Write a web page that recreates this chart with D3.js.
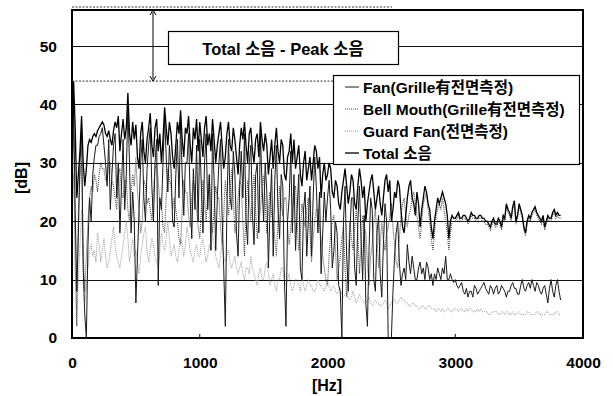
<!DOCTYPE html>
<html>
<head>
<meta charset="utf-8">
<script src="https://cdn.jsdelivr.net/npm/d3@7"></script>
<style>
  body { margin: 0; background: #fff; }
  svg { display: block; }
  text { font-family: "Liberation Sans", Arial, "Noto Sans CJK KR", sans-serif; }
</style>
</head>
<body>
<svg id="chart" width="613" height="396"></svg>
<script>
// frequency bins, 12.5 Hz apart (0 .. 3825 Hz)
const freq = d3.range(0, 3837.5, 12.5);

// one row = 100 Hz
const total = [
  30, 44, 36, 24, 28, 32, 38, 30,
  26, 29, 33, 34, 33.5, 34.5, 35, 34.5,
  35.5, 36, 36.5, 37, 36.5, 35, 34.5, 35.5,
  34, 33, 35.5, 37, 36, 38, 32, 35,
  37.5, 34, 36, 42, 35, 33, 37, 34,
  36.5, 31, 29, 35, 37, 32, 30, 34,
  36, 38.5, 33, 31, 36, 37.5, 32, 35,
  30, 34, 39.5, 36, 33, 37, 35, 31,
  29, 33, 37, 35, 39, 34, 31, 36,
  35, 38, 33, 30, 36, 34, 37.5, 32,
  37, 34, 31, 36, 38, 33, 35, 32,
  37.5, 34, 30, 33, 35, 37, 33, 29,
  31, 35, 37, 33, 32, 36, 34, 31,
  28, 33, 36, 34, 37, 33, 30, 35,
  36, 32, 30, 34, 35, 31, 37, 34,
  32, 35, 33, 28, 31, 34, 29, 33,
  36, 32, 30, 34, 33, 28, 27, 31,
  32, 35, 30, 34, 29, 31, 33, 28,
  26, 30, 32, 27, 29, 31, 27, 30,
  33, 32, 29, 31, 24, 28, 30, 27,
  28, 30, 29, 25, 24, 27, 26, 23,
  22, 25, 27, 29, 26, 23, 25, 28,
  27, 23, 22, 26, 29, 27, 24, 26,
  20, 23, 25, 27, 28, 25, 22, 24,
  26, 23, 21, 24, 27, 28, 25, 27,
  20, 22, 25, 24, 27, 26, 22, 19,
  18, 21, 24, 26, 27, 24, 23, 21,
  25, 23, 19, 22, 24, 26, 25, 23,
  22, 19, 17, 20, 22, 24, 23, 24,
  25, 24, 23, 21, 17, 20, 21, 20.5,
  20.5, 21, 21.5, 20.5, 20.5, 21, 21, 20.5,
  20, 20.5, 21.5, 21, 21, 20.5, 20.5, 21,
  21, 20.5, 20.5, 20, 20, 19.5, 19, 20,
  20.5, 19.5, 19.5, 20.5, 20, 19, 21, 20.5,
  23, 22, 21.5, 20.5, 22.5, 23.5, 20, 21,
  23, 22, 21, 19, 18, 20, 21, 20.5,
  21.5, 22, 22.5, 21.5, 21, 20.5, 20, 21,
  19, 20, 21, 20.5, 20.5, 21.5, 22, 21,
  21.5, 21, 21
];

const fan = [
  26, 40, 22, 8, 18, 30, 36, 12,
  4, 0, 16, 24, 20, 28, 31, 33,
  33, 34.5, 35, 36, 33, 30, 26, 34,
  22, 28, 33, 35, 24, 30, 18, 26,
  34, 22, 28, 40, 30, 18, 25, 20,
  6, 14, 22, 30, 34, 24, 20, 29,
  33, 36, 26, 20, 30, 34, 9, 24,
  22, 30, 38, 31, 25, 33, 29, 20,
  19, 28, 34, 24, 37, 28, 21, 30,
  30, 35, 24, 17, 29, 22, 33, 20,
  34, 26, 18, 30, 35, 22, 28, 15,
  35, 27, 15, 24, 30, 34, 21, 12,
  2, 22, 34, 24, 22, 32, 28, 18,
  14, 26, 32, 24, 35, 20, 16, 30,
  33, 21, 16, 28, 30, 18, 35, 26,
  20, 30, 25, 12, 22, 29, 14, 27,
  33, 22, 17, 28, 26, 10, 2, 20,
  24, 32, 18, 28, 15, 22, 28, 12,
  10, 22, 25, 14, 20, 26, 14, 24,
  31, 26, 18, 25, 11, 18, 25, 20,
  24, 27, 22, 12, 15, 20, 18, 9,
  8, 0, 20, 26, 14, 8, 18, 24,
  24, 12, 9, 20, 26, 17, 10, 21,
  6, 2, 15, 24, 22, 10, 8, 18,
  21, 11, 7, 16, 23, 20, 0, 0,
  0, 8, 14, 18, 20, 13, 9, 11,
  12, 10, 16, 13, 11, 14, 12, 10,
  10, 12, 13, 11, 12, 10, 13, 12,
  10, 11, 9, 11, 10, 12, 11, 10,
  12, 11, 14, 10, 10, 11, 10, 9.5,
  10, 9, 8.5, 9, 9.5, 8, 7.5, 8.5,
  7, 8, 8, 7, 9, 8.5, 7.5, 8,
  8.5, 9, 9.5, 8.5, 8, 7.5, 9, 8.5,
  7.5, 8.5, 9, 7.5, 8, 9, 8.5, 8,
  7, 8, 8, 9, 9.5, 8.5, 8.5, 7.5,
  7.5, 9, 10, 8.5, 8, 9, 9.5, 8.5,
  10, 9, 8, 9.5, 9, 8, 7.5, 8.5,
  9, 7.5, 6, 8.5, 10, 8, 7, 9,
  10, 8, 6.5
];

const bellMouth = [
  30, 35, 12, 2, 22, 28, 30, 15,
  8, 14, 20, 24, 26, 25, 28, 27,
  25, 28, 30, 29, 29, 27, 27, 30,
  30, 27, 26, 24, 22, 28, 29, 25,
  24, 27, 27, 22, 20, 25, 28, 26,
  31, 25, 22, 18, 20, 27, 26, 23,
  24, 22, 20, 25, 29, 30, 27, 23,
  23, 19, 18, 24, 29, 27, 26, 22,
  24, 22, 20, 17, 16, 22, 27, 25,
  25, 21, 19, 24, 27, 25, 22, 19,
  17, 22, 27, 24, 20, 25, 28, 23,
  18, 22, 26, 24, 24, 19, 16, 21,
  27, 24, 21, 25, 29, 24, 18, 20,
  24, 27, 26, 20, 14, 22, 27, 24,
  20, 25, 28, 22, 17, 20, 22, 26,
  28, 23, 18, 22, 25, 21, 20, 17,
  14, 20, 26, 23, 21, 24, 24, 19,
  16, 19, 22, 25, 26, 20, 15, 18,
  23, 21, 19, 22, 24, 18, 13, 17,
  20, 22, 22, 19, 17, 14, 12, 10,
  9, 14, 18, 20, 21, 15, 10, 12,
  14, 17, 19, 12, 7, 14, 20, 17,
  15, 19, 22, 18, 11, 16, 21, 19,
  18, 13, 9, 14, 16, 20, 22, 17,
  12, 16, 20, 17, 15, 18, 19, 21,
  23, 19, 16, 13, 12, 17, 21, 23,
  24, 21, 19, 21, 22, 24, 25, 23,
  21, 19, 17, 20, 23, 24, 25, 22,
  20, 17, 15, 18, 21, 22, 23, 22,
  24, 22, 20, 18, 15, 18, 20, 20,
  20, 20.5, 21, 20, 20, 20.5, 20.5, 20,
  19.5, 20, 21, 20.5, 20.5, 20, 20, 20.5,
  20.5, 20, 20, 19.5, 19.5, 19, 18.5, 19.5,
  20, 19, 19, 20, 19.5, 18.5, 20.5, 20,
  22.5, 21.5, 21, 20, 22, 23, 19.5, 20.5,
  22.5, 21.5, 20.5, 18.5, 17.5, 19.5, 20.5, 20,
  21, 21.5, 22, 21, 20.5, 20, 19.5, 20.5,
  18.5, 19.5, 20.5, 20, 20, 21, 21.5, 20.5,
  21, 20.5, 20.5
];

const guardFan = [
  20, 28, 18, 4, 10, 16, 22, 12,
  6, 9, 12, 15, 16, 14, 15, 13,
  18, 16, 13, 15, 17, 14, 12, 13,
  15, 17, 19, 16, 14, 13, 12, 14,
  16, 18, 20, 17, 13, 15, 17, 14,
  15, 13, 11, 14, 16, 18, 19, 15,
  13, 15, 17, 16, 14, 13, 12, 15,
  18, 16, 15, 17, 20, 17, 14, 15,
  16, 14, 13, 15, 17, 16, 14, 16,
  19, 17, 15, 14, 13, 15, 16, 14,
  14, 16, 17, 15, 13, 14, 16, 15,
  18, 16, 14, 13, 12, 14, 16, 14,
  13, 14, 15, 13, 12, 13, 14, 12,
  11, 12, 13, 11, 10, 12, 12, 11,
  14, 12, 11, 10, 9, 11, 12, 10,
  10, 12, 13, 11, 9, 10, 11, 9,
  8, 10, 10, 12, 12, 10, 9, 10,
  11, 9, 8, 9, 10, 10, 9, 8,
  11, 9, 8, 9, 10, 9, 9, 8,
  8, 9, 10, 9, 9, 8.5, 8, 9,
  9.5, 9, 8, 8.5, 9, 8, 7.5, 8,
  8.5, 7.5, 7, 7.5, 8, 7, 6.5, 7,
  8, 7, 6, 6.5, 7.5, 7, 6.5, 6,
  6, 6.5, 7, 6, 5.5, 6, 6.5, 6,
  6, 5.5, 5.5, 6, 6.5, 6, 5, 5.5,
  6, 6.5, 6.5, 6, 6, 6.5, 7, 6.5,
  6.5, 6, 6, 5.5, 5.5, 6, 6, 5.5,
  5.5, 5, 5, 5.5, 5.5, 5, 5, 5.5,
  5.5, 5, 5, 5, 4.5, 5, 5, 4.5,
  5, 4.5, 4.5, 5, 5, 4.5, 4.5, 5,
  5, 5, 4.5, 5, 5, 4.5, 4.5, 5,
  4.5, 5, 5, 4.5, 4.5, 4.5, 5, 4.5,
  5, 4.5, 4.5, 4.5, 4.5, 4, 4, 4.5,
  4.5, 4.5, 4.5, 4, 4, 4.5, 4.5, 4,
  4.5, 4.5, 4, 4, 4.5, 4, 4, 4.5,
  4.5, 4, 4, 4, 4, 4.5, 4.5, 4,
  4, 4, 4, 4.5, 4.5, 4, 4, 4,
  4, 4.5, 4.5, 4, 4, 4, 4, 4.5,
  4.5, 4, 4
];

const yTicks = [0, 10, 20, 30, 40, 50];
const xTicks = [0, 1000, 2000, 3000, 4000];
const legendLabels = ["Fan(Grille有전면측정)", "Bell Mouth(Grille有전면측정)", "Guard Fan(전면측정)", "Total 소음"];

const svg = d3.select("#chart");
const plotL = 72, plotR = 583, plotT = 10, plotB = 338;

const x = d3.scaleLinear().domain([0, 4000]).range([plotL, plotR]);
const y = d3.scaleLinear().domain([0, 56]).range([plotB, plotT + 1]);

// grid
svg.append("g")
  .selectAll("line")
  .data(yTicks.filter(d => d > 0))
  .join("line")
  .attr("x1", plotL).attr("x2", plotR)
  .attr("y1", d => Math.round(y(d)) + 0.5).attr("y2", d => Math.round(y(d)) + 0.5)
  .attr("stroke", "#111").attr("stroke-width", 1.2);

// axes (labels only, no tick lines)
const yAxis = svg.append("g")
  .attr("transform", `translate(${plotL - 15},0)`)
  .call(d3.axisLeft(y).tickValues(yTicks).tickSize(0).tickPadding(0));
const xAxis = svg.append("g")
  .attr("transform", `translate(0,${plotB + 16})`)
  .call(d3.axisBottom(x).tickValues(xTicks).tickSize(0).tickPadding(3).tickFormat(d3.format("d")));
[yAxis, xAxis].forEach(a => {
  a.select(".domain").remove();
  a.selectAll("text")
    .attr("font-size", 15.5).attr("font-weight", "bold").attr("fill", "#000")
    .attr("font-family", "'Liberation Sans', Arial, sans-serif");
});

// small ticks on the bottom edge
svg.append("g")
  .selectAll("line")
  .data([1000, 3000])
  .join("line")
  .attr("x1", d => x(d)).attr("x2", d => x(d))
  .attr("y1", plotB).attr("y2", plotB - 4)
  .attr("stroke", "#000");

// series
const line = vals => d3.line()
  .x((d, i) => x(freq[i]))
  .y(d => y(d))(vals);

const series = [
  { vals: guardFan, stroke: "#9a9a9a", width: 1, dash: "1,1" },
  { vals: bellMouth, stroke: "#4a4a4a", width: 1.1, dash: "1,1" },
  { vals: fan, stroke: "#1a1a1a", width: 1, dash: null },
  { vals: total, stroke: "#000", width: 1.3, dash: null }
];

svg.append("g")
  .selectAll("path")
  .data(series)
  .join("path")
  .attr("d", d => line(d.vals))
  .attr("fill", "none")
  .attr("stroke", d => d.stroke)
  .attr("stroke-width", d => d.width)
  .attr("stroke-dasharray", d => d.dash);

// plot frame
svg.append("rect")
  .attr("x", plotL).attr("y", plotT)
  .attr("width", plotR - plotL).attr("height", plotB - plotT)
  .attr("fill", "none").attr("stroke", "#000").attr("stroke-width", 2);

// Total - Peak annotation
const peakY = y(d3.max(total));
svg.append("line")
  .attr("x1", plotL).attr("x2", 392).attr("y1", 7).attr("y2", 7)
  .attr("stroke", "#333").attr("stroke-dasharray", "2,1.5");
svg.append("line")
  .attr("x1", plotL).attr("x2", 382).attr("y1", peakY).attr("y2", peakY)
  .attr("stroke", "#333").attr("stroke-dasharray", "2,1.5");
svg.append("line")
  .attr("x1", 153).attr("x2", 153).attr("y1", plotT + 2).attr("y2", peakY - 2)
  .attr("stroke", "#000").attr("stroke-width", 1);
svg.append("path")
  .attr("d", `M150,${plotT + 5}L153,${plotT}L156,${plotT + 5}M150,${peakY - 5}L153,${peakY}L156,${peakY - 5}`)
  .attr("fill", "none").attr("stroke", "#000");

svg.append("rect")
  .attr("x", 168.5).attr("y", 31.5).attr("width", 230).attr("height", 33)
  .attr("fill", "#fff").attr("stroke", "#000").attr("stroke-width", 1.2);
svg.append("text")
  .attr("x", 283).attr("y", 55).attr("text-anchor", "middle")
  .attr("font-size", 16.5).attr("font-weight", "bold")
  .text("Total 소음 - Peak 소음");

// legend
const lg = svg.append("g").attr("transform", "translate(333,75)");
lg.append("rect")
  .attr("x", 0.5).attr("y", 0.5).attr("width", 246).attr("height", 89)
  .attr("fill", "#fff").attr("stroke", "#000").attr("stroke-width", 1.2);
const legendStyle = [series[2], series[1], series[0], series[3]];
const rows = lg.selectAll("g.row")
  .data(legendLabels)
  .join("g")
  .attr("class", "row")
  .attr("transform", (d, i) => `translate(0,${12 + i * 22})`);
rows.append("line")
  .attr("x1", 12).attr("x2", 26).attr("y1", 0).attr("y2", 0)
  .attr("stroke", (d, i) => legendStyle[i].stroke)
  .attr("stroke-width", (d, i) => legendStyle[i].width)
  .attr("stroke-dasharray", (d, i) => legendStyle[i].dash);
rows.append("text")
  .attr("x", 30).attr("y", 5.5)
  .attr("font-size", 15.5).attr("font-weight", "bold")
  .text(d => d);

// axis titles
svg.append("text")
  .attr("transform", "translate(27,178) rotate(-90)")
  .attr("text-anchor", "middle")
  .attr("font-size", 16).attr("font-weight", "bold")
  .text("[dB]");
svg.append("text")
  .attr("x", 327).attr("y", 391).attr("text-anchor", "middle")
  .attr("font-size", 16).attr("font-weight", "bold")
  .text("[Hz]");
</script>
</body>
</html>
